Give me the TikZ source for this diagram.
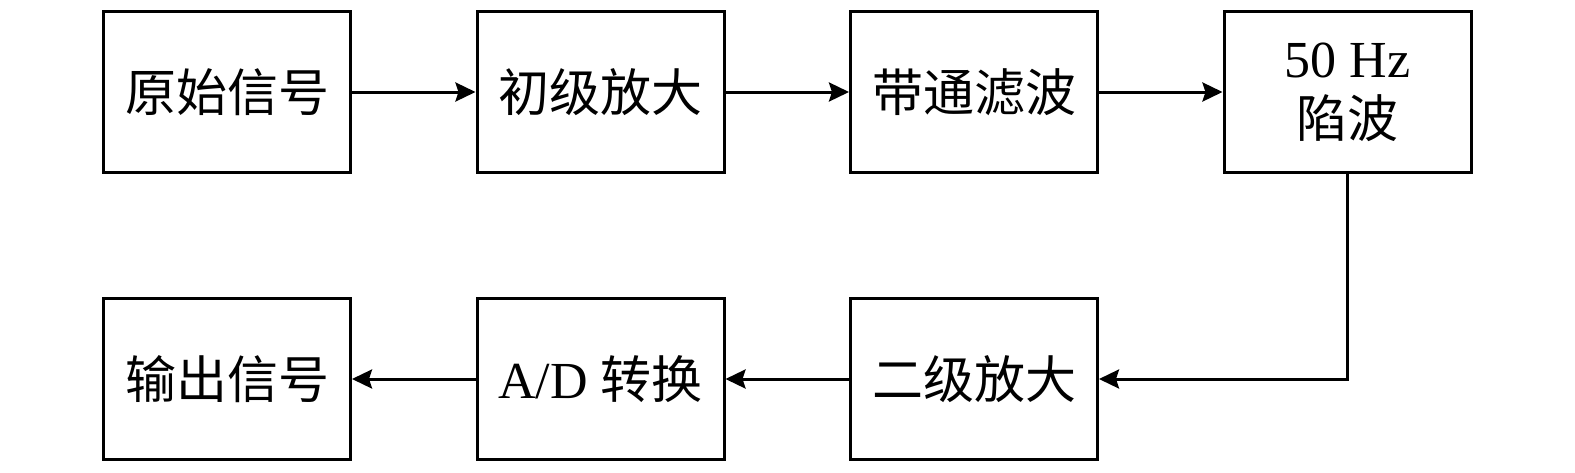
\documentclass[tikz,border=0pt]{standalone}
\usepackage{fontspec}
\setmainfont{Liberation Serif}
\newfontfamily\cjk{Noto Sans CJK SC}
\usetikzlibrary{arrows.meta}
\begin{document}
\begin{tikzpicture}[x=1pt,y=-1pt,
  box/.style={draw, line width=3pt, minimum width=247pt, minimum height=161pt,
    inner sep=0pt, font=\fontsize{52}{62}\selectfont, align=center},
  zh/.style={font=\fontsize{51}{62}\selectfont\cjk},
  conn/.style={line width=3pt, -{Stealth[length=20pt,width=19pt,inset=3pt]}}]
\useasboundingbox (0,0) rectangle (1575,472);
\node[box,zh] (b1) at (227,92) {原始信号};
\node[box,zh] (b2) at (600.5,92) {初级放大};
\node[box,zh] (b3) at (974,92) {带通滤波};
\node[box] (b4) at (1347.5,92) {50 Hz\\[-2pt]{\fontsize{51}{62}\selectfont\cjk 陷波}};
\node[box,zh] (b5) at (974,379) {二级放大};
\node[box] (b6) at (600.5,379) {A/D {\fontsize{51}{62}\selectfont\cjk 转换}};
\node[box,zh] (b7) at (227,379) {输出信号};
\draw[conn] (b1) -- (b2);
\draw[conn] (b2) -- (b3);
\draw[conn] (b3) -- (b4);
\draw[conn] (b4.south) |- (b5.east);
\draw[conn] (b5) -- (b6);
\draw[conn] (b6) -- (b7);
\end{tikzpicture}
\end{document}
